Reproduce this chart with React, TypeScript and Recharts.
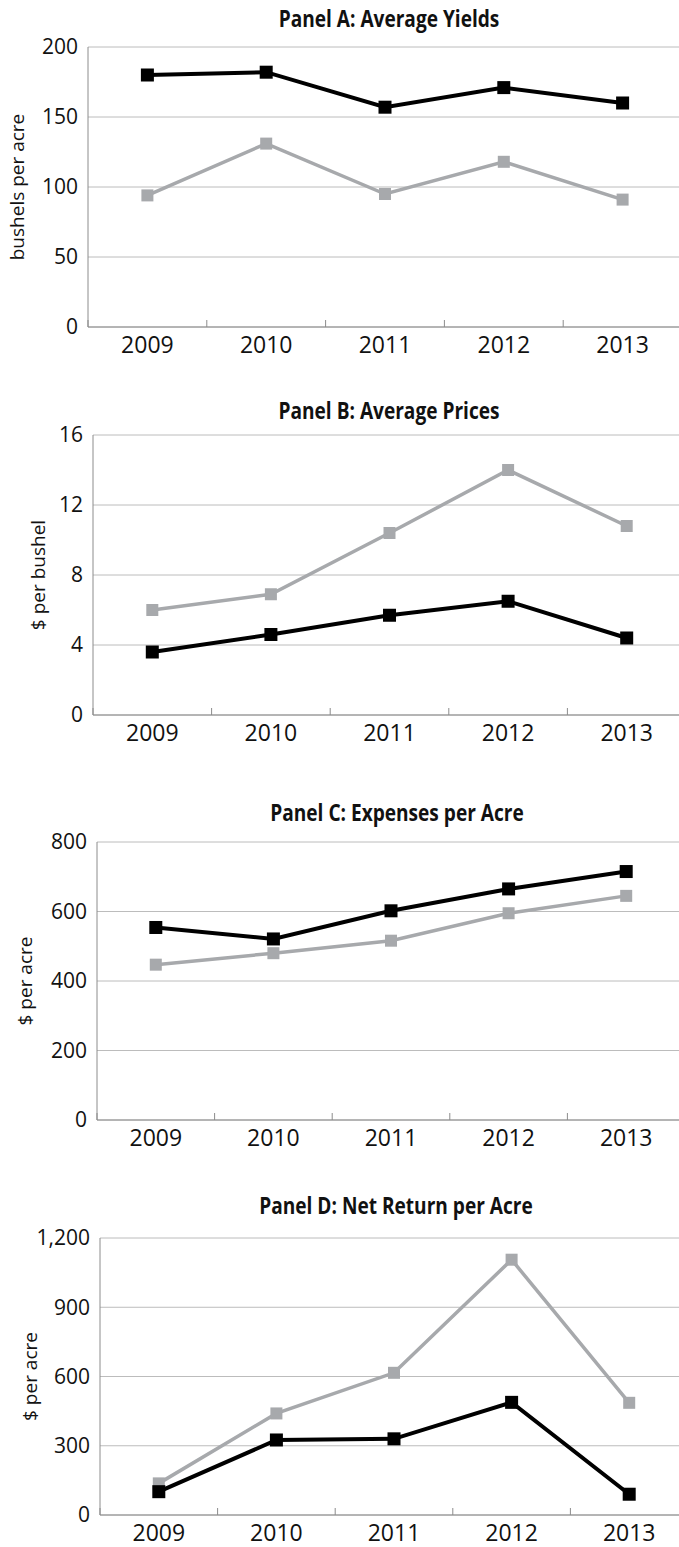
import React from "react";
import { LineChart, Line, XAxis, YAxis, CartesianGrid } from "recharts";

const years = ["2009", "2010", "2011", "2012", "2013"];

// dark line = black series, light line = gray series
const yieldsDark = [180, 182, 157, 171, 160];
const yieldsLight = [94, 131, 95, 118, 91];
const pricesDark = [3.6, 4.6, 5.7, 6.5, 4.4];
const pricesLight = [6.0, 6.9, 10.4, 14.0, 10.8];
const expensesDark = [554, 521, 602, 665, 715];
const expensesLight = [447, 480, 516, 595, 645];
const returnsDark = [101, 325, 330, 488, 90];
const returnsLight = [137, 440, 616, 1106, 486];

const yieldTicks = [0, 50, 100, 150, 200];
const priceTicks = [0, 4, 8, 12, 16];
const expenseTicks = [0, 200, 400, 600, 800];
const returnTicks = [0, 300, 600, 900, 1200];

const DARK = "#000000";
const LIGHT = "#a7a9ac";
const AXIS = "#8c8c8c";
const GRID = "#bcbcbc";
const FONT = "'Open Sans', sans-serif";
const X_MARGIN = 9;

const fmt = (v: number) => v.toLocaleString("en-US");

function squareDot(size: number, color: string) {
  return (props: any) => {
    const { cx, cy, index } = props;
    if (cx == null || cy == null) return <g key={index} />;
    return (
      <rect key={index} x={cx - size / 2} y={cy - size / 2} width={size} height={size} fill={color} />
    );
  };
}

// label at the category centre, small tick mark at the band's left edge
function XTick(props: any) {
  const { x, y, payload, half } = props;
  const axisY = y - X_MARGIN;
  return (
    <g>
      <line x1={x - half} x2={x - half} y1={axisY} y2={axisY - 7} stroke={AXIS} strokeWidth={1} />
      <text x={x} y={y} dy="0.74em" textAnchor="middle" fontFamily={FONT} fontSize={23} fill="#111">
        {payload.value}
      </text>
    </g>
  );
}

interface PanelProps {
  title: string;
  yLabel: string;
  dark: number[];
  light: number[];
  ticks: number[];
  plotTop: number;
  plotH: number;
  axisX: number;
  plotRight: number;
  labelX: number;
  titleX: number;
  titleY: number;
}

function Panel(p: PanelProps) {
  const data = years.map((year, i) => ({ year, dark: p.dark[i], light: p.light[i] }));
  const W = 700;
  const mTop = 20;
  const xH = 40;
  const max = p.ticks[p.ticks.length - 1];
  const half = (p.plotRight - p.axisX) / years.length / 2;
  return (
    <>
      <div
        style={{
          position: "absolute",
          left: p.titleX - 200,
          top: p.titleY - 11,
          width: 400,
          textAlign: "center",
          fontFamily: FONT,
          fontWeight: 700,
          fontSize: 23,
          lineHeight: "23px",
          color: "#111",
          transform: "scaleX(0.83)",
          transformOrigin: "50% 50%",
          whiteSpace: "nowrap",
        }}
      >
        {p.title}
      </div>
      <div style={{ position: "absolute", left: 0, top: p.plotTop - mTop }}>
        <LineChart
          width={W}
          height={mTop + p.plotH + xH}
          data={data}
          margin={{ top: mTop, right: W - p.plotRight, bottom: 0, left: 0 }}
        >
          <CartesianGrid vertical={false} stroke={GRID} strokeWidth={1} />
          <XAxis
            dataKey="year"
            scale="band"
            height={xH}
            stroke={AXIS}
            tickLine={false}
            tickSize={0}
            tickMargin={X_MARGIN}
            interval={0}
            tick={<XTick half={half} />}
          />
          <YAxis
            width={p.axisX}
            domain={[0, max]}
            ticks={p.ticks}
            stroke={AXIS}
            tickLine={false}
            tickSize={0}
            tickMargin={10}
            tickFormatter={fmt}
            tick={{ fill: "#111", fontSize: 21, fontFamily: FONT }}
            label={{
              value: p.yLabel,
              angle: -90,
              position: "insideLeft",
              offset: p.labelX,
              style: { textAnchor: "middle", fontFamily: FONT, fontSize: 19, fill: "#111" },
            }}
          />
          <Line
            dataKey="light"
            stroke={LIGHT}
            strokeWidth={3.5}
            dot={squareDot(12, LIGHT)}
            activeDot={false}
            isAnimationActive={false}
          />
          <Line
            dataKey="dark"
            stroke={DARK}
            strokeWidth={4}
            dot={squareDot(13, DARK)}
            activeDot={false}
            isAnimationActive={false}
          />
        </LineChart>
      </div>
    </>
  );
}

export default function App() {
  return (
    <div
      style={{
        position: "absolute",
        left: 0,
        top: 0,
        width: 679,
        height: 1547,
        overflow: "hidden",
        background: "#fff",
      }}
    >
      <Panel
        title="Panel A: Average Yields"
        yLabel="bushels per acre"
        dark={yieldsDark}
        light={yieldsLight}
        ticks={yieldTicks}
        plotTop={47}
        plotH={280}
        axisX={88}
        plotRight={682}
        labelX={17}
        titleX={389}
        titleY={18}
      />
      <Panel
        title="Panel B: Average Prices"
        yLabel="$ per bushel"
        dark={pricesDark}
        light={pricesLight}
        ticks={priceTicks}
        plotTop={435}
        plotH={280}
        axisX={93}
        plotRight={686}
        labelX={38}
        titleX={389}
        titleY={410}
      />
      <Panel
        title="Panel C: Expenses per Acre"
        yLabel="$ per acre"
        dark={expensesDark}
        light={expensesLight}
        ticks={expenseTicks}
        plotTop={842}
        plotH={278}
        axisX={97}
        plotRight={685}
        labelX={25}
        titleX={397}
        titleY={812}
      />
      <Panel
        title="Panel D: Net Return per Acre"
        yLabel="$ per acre"
        dark={returnsDark}
        light={returnsLight}
        ticks={returnTicks}
        plotTop={1238}
        plotH={277}
        axisX={100}
        plotRight={688}
        labelX={30}
        titleX={396}
        titleY={1205}
      />
    </div>
  );
}
